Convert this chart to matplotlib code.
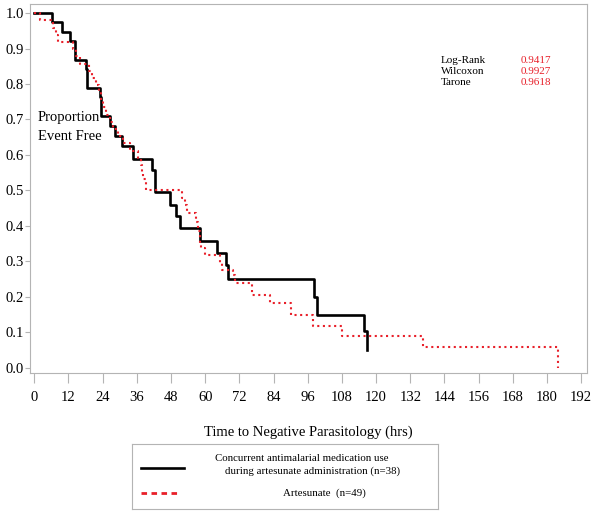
import matplotlib
matplotlib.use('Agg')
import matplotlib.pyplot as plt
import numpy as np

plt.rcParams['font.family'] = ['Liberation Serif', 'DejaVu Serif']

# Kaplan-Meier steps: time of event (hrs) and survival after it
conc_t = [0, 6.1, 9.8, 12.5, 14.3, 18.1, 18.6, 23.1, 23.6, 26.6, 28.3, 30.9, 34.5,
          41.2, 42.4, 47.6, 49.7, 51.1, 58.1, 64.0, 67.3, 68.0, 98.1, 99.1, 115.8, 117.0]
conc_s = [1.0, 0.974, 0.947, 0.921, 0.868, 0.842, 0.789, 0.763, 0.711, 0.681, 0.653, 0.624, 0.589,
          0.558, 0.495, 0.46, 0.429, 0.393, 0.356, 0.322, 0.289, 0.251, 0.199, 0.149, 0.102, 0.049]

art_t = [0, 2.0, 6.7, 7.6, 8.4, 13.6, 14.6, 16.0, 19.2, 20.4, 21.6, 22.7, 23.4, 24.1, 25.2,
         26.6, 27.6, 29.4, 31.1, 33.6, 36.4, 37.4, 37.8, 38.2, 39.2, 51.7, 52.9, 53.5, 56.7,
         57.4, 58.1, 58.7, 59.9, 65.2, 65.8, 69.8, 70.4, 76.3, 82.7, 90.3, 97.7, 107.9, 136.4, 183.9]
art_s = [1.0, 0.98, 0.959, 0.939, 0.918, 0.898, 0.878, 0.857, 0.837, 0.816, 0.796, 0.776, 0.755, 0.735, 0.714,
         0.694, 0.673, 0.653, 0.633, 0.612, 0.592, 0.571, 0.551, 0.531, 0.50, 0.479, 0.458, 0.436, 0.41,
         0.385, 0.352, 0.338, 0.318, 0.295, 0.276, 0.262, 0.239, 0.206, 0.182, 0.149, 0.118, 0.09, 0.058, 0.0]

tests = ['Log-Rank', 'Wilcoxon', 'Tarone']
pvals = ['0.9417', '0.9927', '0.9618']

xticks = np.arange(0, 193, 12)
yticks = np.arange(0, 1.01, 0.1)

grey = '#b4b4b4'
red = '#e8202a'

fig = plt.figure(figsize=(6, 5.16), dpi=100)
ax = fig.add_axes([0.05, 0.2766, 0.928, 0.7151])

ax.step(conc_t, conc_s, where='post', color='black', lw=1.9, zorder=2)
ax.step(art_t, art_s, where='post', color=red, lw=1.5, linestyle=(0, (1, 1.7)), zorder=3)

ax.set_xlim(-1.5, 194)
ax.set_ylim(-0.016, 1.025)
ax.set_xticks(xticks)
ax.set_yticks(yticks)
ax.set_yticklabels([f'{v:.1f}' for v in yticks])
for s in ax.spines.values():
    s.set_color(grey)
ax.tick_params(axis='x', colors=grey, labelcolor='black', length=7, pad=6, labelsize=10.5)
ax.tick_params(axis='y', colors=grey, labelcolor='black', length=3.5, pad=1, labelsize=10.5)
ax.set_xlabel('Time to Negative Parasitology (hrs)', fontsize=10.5, labelpad=15)

ax.text(1.3, 0.707, 'Proportion', fontsize=10.5, va='center', ha='left')
ax.text(1.3, 0.651, 'Event Free', fontsize=10.5, va='center', ha='left')

for i, (name, p) in enumerate(zip(tests, pvals)):
    y = 0.867 - i * 0.031
    ax.text(142.7, y, name, fontsize=8, va='center', ha='left')
    ax.text(170.7, y, p, fontsize=8, va='center', ha='left', color=red)

# legend box
lg = fig.add_axes([0.22, 0.013, 0.51, 0.126])
lg.set_xlim(0, 1)
lg.set_ylim(0, 1)
lg.set_xticks([])
lg.set_yticks([])
for s in lg.spines.values():
    s.set_color(grey)
lg.plot([0.029, 0.170], [0.63, 0.63], color='black', lw=1.9)
lg.plot([0.029, 0.16], [0.246, 0.246], color=red, lw=2, linestyle=(0, (2, 1.6)))
lg.text(0.554, 0.785, 'Concurrent antimalarial medication use', fontsize=7.8, ha='center', va='center')
lg.text(0.589, 0.59, 'during artesunate administration (n=38)', fontsize=7.8, ha='center', va='center')
lg.text(0.628, 0.25, 'Artesunate  (n=49)', fontsize=7.8, ha='center', va='center')

fig.savefig('out.png', dpi=100)
